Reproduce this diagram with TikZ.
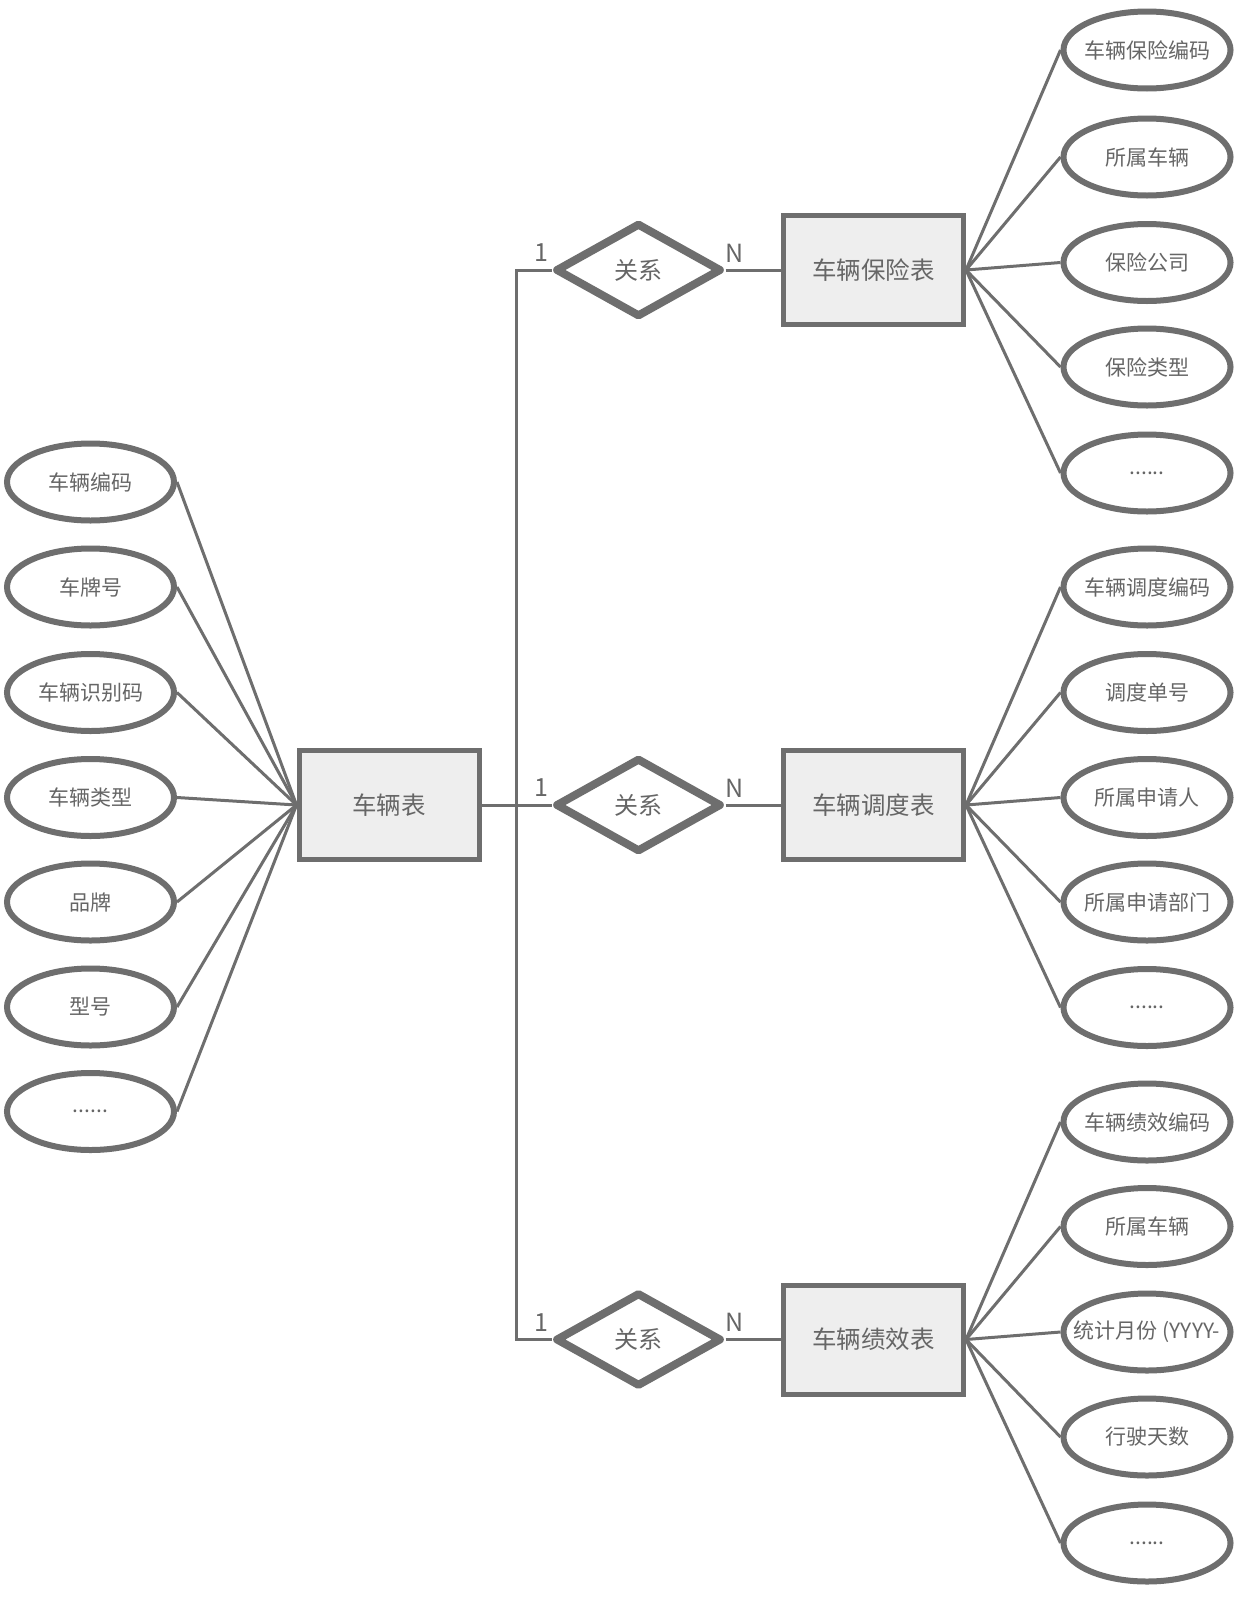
\documentclass[tikz,border=0pt]{standalone}
\usepackage{fontspec}
\setmainfont{Noto Sans CJK SC}
\usetikzlibrary{shapes.geometric}
\definecolor{lc}{HTML}{6E6E6E}
\definecolor{tc}{HTML}{666666}
\definecolor{ef}{HTML}{EEEEEE}
\newcommand\zbx[1]{\makebox[0pt]{#1}}
\begin{document}
\begin{tikzpicture}[x=1pt,y=-1pt,
 attr/.style={ellipse, draw=lc, line width=6pt, minimum width=167pt, minimum height=77pt, inner sep=0pt, text=tc, fill=white, font=\fontsize{21pt}{24pt}\selectfont},
 ent/.style={rectangle, draw=lc, line width=5pt, fill=ef, minimum width=180pt, minimum height=109pt, inner sep=0pt, text=tc, font=\fontsize{24.5pt}{28pt}\selectfont},
 rel/.style={diamond, draw=lc, line width=8pt, line join=round, minimum width=166pt, minimum height=94pt, inner sep=0pt, fill=white, text=tc, font=\fontsize{24pt}{28pt}\selectfont},
 conn/.style={draw=lc, line width=3pt},
 card/.style={text=tc, inner sep=0pt, font=\fontsize{25pt}{28pt}\selectfont}]
\useasboundingbox[fill=white] (0,0) rectangle (1242,1609);

% entities
\node[ent] (e0) at (389,805) {车辆表};
\node[ent] (t1) at (873.5,270) {车辆保险表};
\node[ent] (t2) at (873.5,805) {车辆调度表};
\node[ent] (t3) at (873.5,1339.5) {车辆绩效表};

% relations
\node[rel] (d1) at (638.5,270) {关系};
\node[rel] (d2) at (638.5,805) {关系};
\node[rel] (d3) at (638.5,1339.5) {关系};

% cardinalities
\node[card] (c1a) at (541,253) {1};
\node[card] (c1b) at (734.5,253) {N};
\node[card] (c2a) at (541,788) {1};
\node[card] (c2b) at (734.5,788) {N};
\node[card] (c3a) at (541,1322.5) {1};
\node[card] (c3b) at (734.5,1322.5) {N};

% left attributes
\node[attr] (l1) at (90.5,482) {\zbx{车辆编码}};
\node[attr] (l2) at (90.5,587) {\zbx{车牌号}};
\node[attr] (l3) at (90.5,692.5) {\zbx{车辆识别码}};
\node[attr] (l4) at (90.5,797.5) {\zbx{车辆类型}};
\node[attr] (l5) at (90.5,902) {\zbx{品牌}};
\node[attr] (l6) at (90.5,1007) {\zbx{型号}};
\node[attr] (l7) at (90.5,1111.5) {\zbx{......}};

% right attributes group 1
\node[attr] (a1) at (1147,50) {\zbx{车辆保险编码}};
\node[attr] (a2) at (1147,157) {\zbx{所属车辆}};
\node[attr] (a3) at (1147,262.5) {\zbx{保险公司}};
\node[attr] (a4) at (1147,367) {\zbx{保险类型}};
\node[attr] (a5) at (1147,473) {\zbx{......}};

% group 2
\node[attr] (b1) at (1147,587) {\zbx{车辆调度编码}};
\node[attr] (b2) at (1147,692.5) {\zbx{调度单号}};
\node[attr] (b3) at (1147,797.5) {\zbx{所属申请人}};
\node[attr] (b4) at (1147,902) {\zbx{所属申请部门}};
\node[attr] (b5) at (1147,1007.5) {\zbx{......}};

% group 3
\node[attr] (g1) at (1147,1122) {\zbx{车辆绩效编码}};
\node[attr] (g2) at (1147,1226.5) {\zbx{所属车辆}};
\node[attr] (g3) at (1147,1332) {\zbx{统计月份 (YYYY-}};
\node[attr] (g4) at (1147,1437) {\zbx{行驶天数}};
\node[attr] (g5) at (1147,1543) {\zbx{......}};

% connectors
\coordinate (bus) at (516,805);
\draw[conn] (e0.east) -- (d2.west);
\draw[conn] (d1.west) -- (d1.west -| bus) -- (d3.west -| bus) -- (d3.west);
\draw[conn] (d1.east) -- (t1.west);
\draw[conn] (d2.east) -- (t2.west);
\draw[conn] (d3.east) -- (t3.west);

\foreach \n in {l1,l2,l3,l4,l5,l6,l7} \draw[conn] (\n.east) -- (e0.west);
\foreach \n in {a1,a2,a3,a4,a5} \draw[conn] (t1.east) -- (\n.west);
\foreach \n in {b1,b2,b3,b4,b5} \draw[conn] (t2.east) -- (\n.west);
\foreach \n in {g1,g2,g3,g4,g5} \draw[conn] (t3.east) -- (\n.west);
\end{tikzpicture}
\end{document}
